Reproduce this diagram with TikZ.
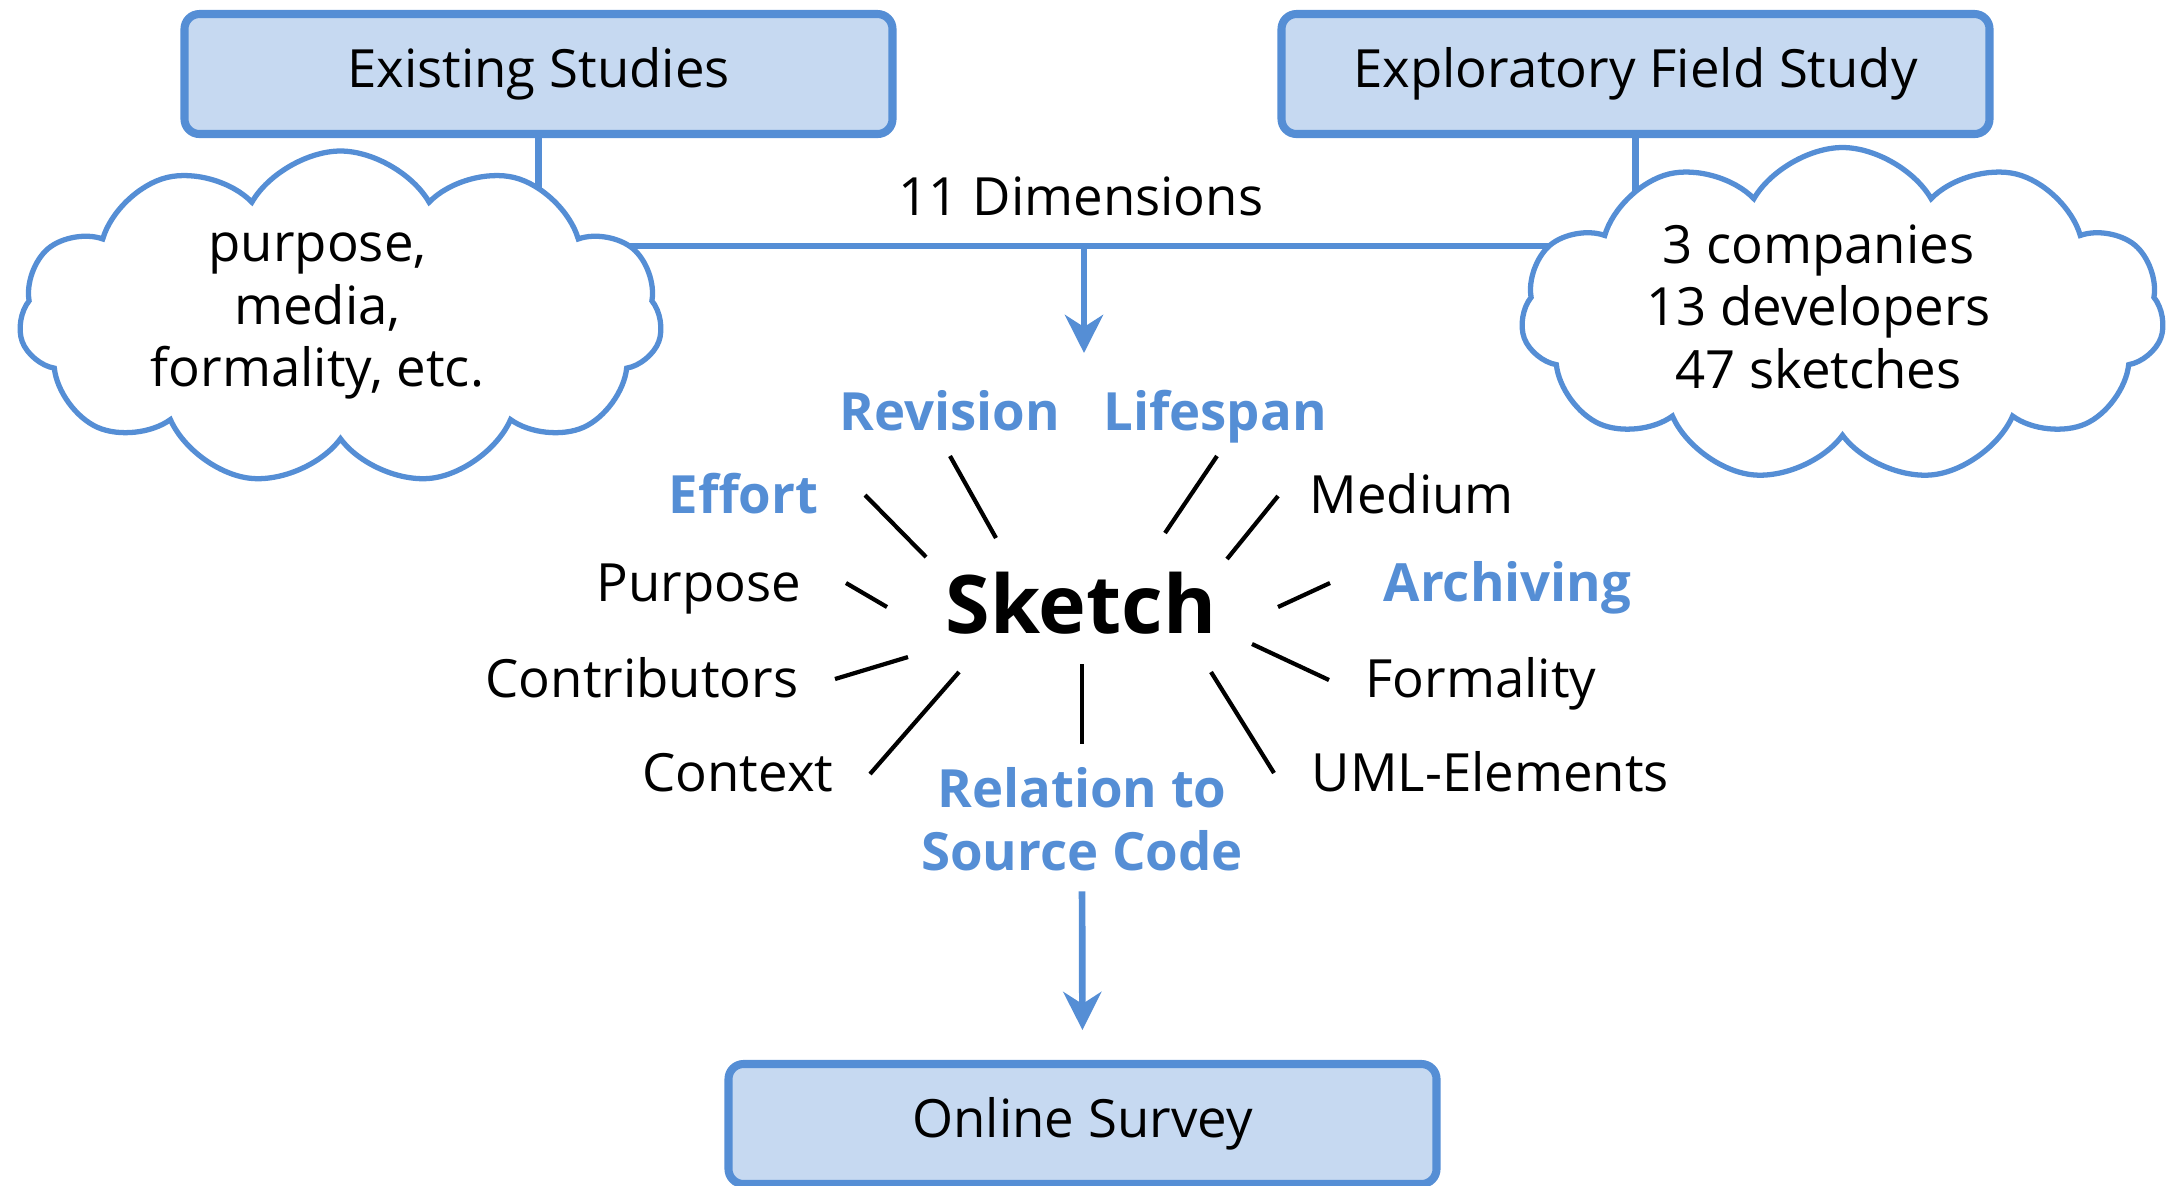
\documentclass[tikz,border=0pt]{standalone}
\usepackage{fontspec}
\setmainfont{Open Sans}
\usetikzlibrary{shapes.symbols, arrows.meta, positioning, backgrounds}

\definecolor{frameblue}{HTML}{558ED5}
\definecolor{fillblue}{HTML}{C6D9F1}

\begin{document}
\begin{tikzpicture}[
    every node/.style={font=\fontsize{15}{17.8}\selectfont},
    box/.style={rectangle, draw=frameblue, fill=fillblue, line width=2.3pt, rounded corners=0.15cm, minimum width=7.08cm, minimum height=1.2cm},
    thought/.style={cloud, draw=frameblue, fill=white, line width=1.5pt, cloud puffs=11, cloud puff arc=120, cloud ignores aspect, minimum width=6.43cm, minimum height=3.34cm},
    facet/.style={inner sep=0pt},
    keyfacet/.style={facet, text=frameblue, font=\fontsize{15}{17.8}\selectfont\bfseries},
    link/.style={draw=frameblue, line width=1.9pt},
    arrow/.style={link, -{Stealth[length=0.38cm, width=0.38cm, inset=0.12cm]}},
    ray/.style={line width=1.2pt}
]
\useasboundingbox (0,0) rectangle (21.68,-11.85);

% Studies
\node[box] (existing) at (5.385,-0.74) {Existing Studies};
\node[box] (field) at (16.355,-0.74) {Exploratory Field Study};
\node[box] (survey) at (10.825,-11.24) {Online Survey};

% Clouds
\node[thought] (leftcloud) at (3.405,-3.18) {};
\node[thought] (rightcloud) at (18.425,-3.145) {};
\node[facet, align=center] (sources) at ([xshift=-0.23cm, yshift=0.02cm]leftcloud.center) {purpose,\\media,\\formality, etc.};
\node[facet, align=center] (fieldfacts) at ([xshift=-0.24cm, yshift=0.08cm]rightcloud.center) {3 companies\\13 developers\\47 sketches};

\coordinate (dimjoin) at (10.84,-2.46);
\coordinate (sketchin) at (10.84,-3.53);
\node[facet, anchor=base] (dimensions) at (10.81,-2.15) {11 Dimensions};

\begin{scope}[on background layer]
\draw[link] (existing.south) -- (existing.south |- leftcloud.center);
\draw[link] (field.south) -- (field.south |- rightcloud.center);
\draw[link] (leftcloud.center |- dimjoin) -- (rightcloud.center |- dimjoin);
\end{scope}
\draw[arrow] (dimjoin) -- (sketchin);

% Sketch and its dimensions
\node[facet, anchor=base, font=\fontsize{23}{28}\selectfont\bfseries] (sketch) at (10.81,-6.33) {Sketch};
\node[keyfacet, anchor=base] (revision) at (9.50,-4.30) {Revision};
\node[keyfacet, anchor=base] (lifespan) at (12.15,-4.30) {Lifespan};
\node[keyfacet, anchor=base east] (effort) at (8.19,-5.13) {Effort};
\node[facet, anchor=base west] (medium) at (13.09,-5.13) {Medium};
\node[facet, anchor=base east] (purpose) at (8.02,-6.01) {Purpose};
\node[keyfacet, anchor=base west] (archiving) at (13.83,-6.01) {Archiving};
\node[facet, anchor=base east] (contrib) at (7.99,-6.97) {Contributors};
\node[facet, anchor=base west] (formality) at (13.65,-6.97) {Formality};
\node[facet, anchor=base east] (context) at (8.34,-7.91) {Context};
\node[facet, anchor=base west] (uml) at (13.11,-7.91) {UML-Elements};
\node[keyfacet, align=center] (relation) at (10.82,-8.19) {Relation to\\Source Code};

% Rays
\foreach \a/\b in {{8.65,-4.95}/{9.26,-5.57}, {9.50,-4.56}/{9.96,-5.38},
    {12.17,-4.56}/{11.65,-5.33}, {12.78,-4.96}/{12.27,-5.59},
    {8.46,-5.83}/{8.87,-6.07}, {13.30,-5.83}/{12.78,-6.07},
    {8.35,-6.79}/{9.08,-6.57}, {13.29,-6.80}/{12.52,-6.44},
    {8.70,-7.74}/{9.59,-6.72}, {12.74,-7.73}/{12.11,-6.72},
    {10.82,-6.64}/{10.82,-7.44}}
  \draw[ray] (\a) -- (\b);

\draw[arrow, shorten <=0.2cm, shorten >=0.3cm] (relation.south) -- (survey.north);

\end{tikzpicture}
\end{document}
